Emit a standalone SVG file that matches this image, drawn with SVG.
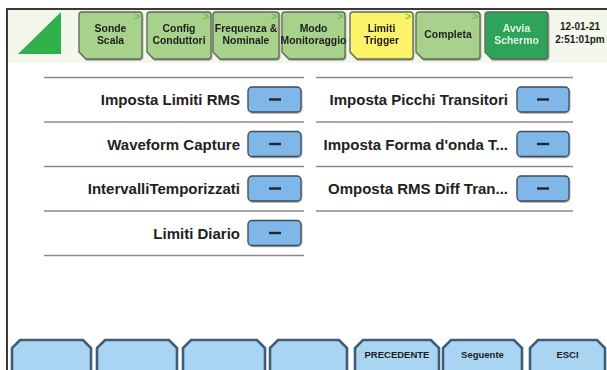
<svg xmlns="http://www.w3.org/2000/svg" width="607" height="370" viewBox="0 0 607 370">
  <style>
    .tab { stroke: #5f6a55; stroke-width: 1.3; }
    .tab-green { fill: #a8d18c; }
    .tab-yellow { fill: #fdf36a; }
    .tab-start { fill: #2ea35a; }
    .tab-text { font-family: "Liberation Sans", Arial, sans-serif; font-weight: bold; font-size: 10.4px; fill: #1e1e1e; text-anchor: middle; }
    .tab-text-light { fill: #e4f6e4; }
    .clock-text { font-family: "Liberation Sans", Arial, sans-serif; font-weight: bold; font-size: 10px; fill: #1e1e1e; text-anchor: middle; }
    .chev { font-family: "Liberation Sans", Arial, sans-serif; font-size: 11px; fill: #4fb848; }
    .rule { stroke: #8a8a8a; stroke-width: 1.3; }
    .label { font-family: "Liberation Sans", Arial, sans-serif; font-weight: bold; font-size: 15px; fill: #222; text-anchor: end; }
    .btn { fill: #80b7e9; stroke: #3f4b58; stroke-width: 1.3; }
    .minus { stroke: #1f2630; stroke-width: 2.4; }
    .softkey { fill: #a9d5f3; stroke: #3e5d78; stroke-width: 2.6; }
    .softkey-text { font-family: "Liberation Sans", Arial, sans-serif; font-weight: bold; font-size: 9.5px; fill: #1e1e1e; text-anchor: middle; }
  </style>
  <defs>
    <filter id="shadow" x="-10%" y="-10%" width="130%" height="140%">
      <feDropShadow dx="0.6" dy="1" stdDeviation="0.6" flood-color="#000" flood-opacity="0.35"/>
    </filter>
  </defs>

  <!-- screen background and frame -->
  <rect x="0" y="0" width="607" height="370" fill="#ffffff"/>
  <rect x="8" y="10" width="599" height="53" fill="#f4f8ec"/>
  <line x1="7" y1="9" x2="607" y2="9" stroke="#3a3a3a" stroke-width="2"/>
  <line x1="7" y1="8" x2="7" y2="370" stroke="#3a3a3a" stroke-width="2"/>

  <!-- logo -->
  <polygon points="18,54 61,12 61,54" fill="#2fb04a"/>

  <!-- setup step tabs -->
  <g id="tab-sonde" filter="url(#shadow)">
    <path class="tab tab-green" d="M82,12 H139 Q142,12 142,15 V56 Q142,59 139,59 H86 L79,52 V15 Q79,12 82,12 Z"/>
    <text class="chev" x="134" y="20">&gt;</text>
    <text class="tab-text" x="110.5" y="32">Sonde</text>
    <text class="tab-text" x="110.5" y="44">Scala</text>
  </g>
  <g id="tab-config" filter="url(#shadow)">
    <path class="tab tab-green" d="M150,12 H208 Q211,12 211,15 V56 Q211,59 208,59 H154 L147,52 V15 Q147,12 150,12 Z"/>
    <text class="chev" x="203" y="20">&gt;</text>
    <text class="tab-text" x="179" y="32">Config</text>
    <text class="tab-text" x="179" y="44">Conduttori</text>
  </g>
  <g id="tab-frequenza" filter="url(#shadow)">
    <path class="tab tab-green" d="M216,12 H276 Q279,12 279,15 V56 Q279,59 276,59 H220 L213,52 V15 Q213,12 216,12 Z"/>
    <text class="chev" x="271" y="20">&gt;</text>
    <text class="tab-text" x="246" y="32">Frequenza &amp;</text>
    <text class="tab-text" x="246" y="44">Nominale</text>
  </g>
  <g id="tab-modo" filter="url(#shadow)">
    <path class="tab tab-green" d="M285,12 H342 Q345,12 345,15 V56 Q345,59 342,59 H289 L282,52 V15 Q282,12 285,12 Z"/>
    <text class="chev" x="337" y="20">&gt;</text>
    <text class="tab-text" x="313.5" y="32">Modo</text>
    <text class="tab-text" x="313.5" y="44">Monitoraggio</text>
  </g>
  <g id="tab-limiti" filter="url(#shadow)">
    <path class="tab tab-yellow" d="M353,12 H410 Q413,12 413,15 V56 Q413,59 410,59 H357 L350,52 V15 Q350,12 353,12 Z"/>
    <text class="chev" x="405" y="20">&gt;</text>
    <text class="tab-text" x="381.5" y="32">Limiti</text>
    <text class="tab-text" x="381.5" y="44">Trigger</text>
  </g>
  <g id="tab-completa" filter="url(#shadow)">
    <path class="tab tab-green" d="M419,12 H477 Q480,12 480,15 V56 Q480,59 477,59 H423 L416,52 V15 Q416,12 419,12 Z"/>
    <text class="chev" x="472" y="20">&gt;</text>
    <text class="tab-text" x="448" y="38">Completa</text>
  </g>
  <g id="tab-avvia" filter="url(#shadow)">
    <path class="tab tab-start" d="M488,12 H545 Q548,12 548,15 V56 Q548,59 545,59 H492 L485,52 V15 Q485,12 488,12 Z"/>
    <text class="tab-text tab-text-light" x="516.5" y="32">Avvia</text>
    <text class="tab-text tab-text-light" x="516.5" y="44">Schermo</text>
  </g>

  <!-- clock -->
  <g id="clock">
    <text class="clock-text" x="580" y="30">12-01-21</text>
    <text class="clock-text" x="580" y="43">2:51:01pm</text>
  </g>

  <!-- row separators -->
  <g id="rules">
    <line class="rule" x1="44" y1="77.5" x2="304" y2="77.5"/>
    <line class="rule" x1="44" y1="122" x2="304" y2="122"/>
    <line class="rule" x1="44" y1="166.5" x2="304" y2="166.5"/>
    <line class="rule" x1="44" y1="211" x2="304" y2="211"/>
    <line class="rule" x1="44" y1="255.5" x2="304" y2="255.5"/>
    <line class="rule" x1="316" y1="77.5" x2="573" y2="77.5"/>
    <line class="rule" x1="316" y1="122" x2="573" y2="122"/>
    <line class="rule" x1="316" y1="166.5" x2="573" y2="166.5"/>
    <line class="rule" x1="316" y1="211" x2="573" y2="211"/>
  </g>

  <!-- left column settings -->
  <g id="row-limiti-rms">
    <text class="label" x="240" y="105">Imposta Limiti RMS</text>
    <rect class="btn" x="248" y="87" width="53" height="25" rx="4" filter="url(#shadow)"/>
    <line class="minus" x1="269" y1="99.5" x2="281" y2="99.5"/>
  </g>
  <g id="row-waveform">
    <text class="label" x="240" y="149.5">Waveform Capture</text>
    <rect class="btn" x="248" y="131.5" width="53" height="25" rx="4" filter="url(#shadow)"/>
    <line class="minus" x1="269" y1="144" x2="281" y2="144"/>
  </g>
  <g id="row-intervalli">
    <text class="label" x="240" y="194">IntervalliTemporizzati</text>
    <rect class="btn" x="248" y="176" width="53" height="25" rx="4" filter="url(#shadow)"/>
    <line class="minus" x1="269" y1="188.5" x2="281" y2="188.5"/>
  </g>
  <g id="row-diario">
    <text class="label" x="240" y="238.5">Limiti Diario</text>
    <rect class="btn" x="248" y="220.5" width="53" height="25" rx="4" filter="url(#shadow)"/>
    <line class="minus" x1="269" y1="233" x2="281" y2="233"/>
  </g>

  <!-- right column settings -->
  <g id="row-picchi">
    <text class="label" x="508" y="105">Imposta Picchi Transitori</text>
    <rect class="btn" x="517" y="87" width="52" height="25" rx="4" filter="url(#shadow)"/>
    <line class="minus" x1="537" y1="99.5" x2="549" y2="99.5"/>
  </g>
  <g id="row-forma-onda">
    <text class="label" x="508" y="149.5">Imposta Forma d'onda T...</text>
    <rect class="btn" x="517" y="131.5" width="52" height="25" rx="4" filter="url(#shadow)"/>
    <line class="minus" x1="537" y1="144" x2="549" y2="144"/>
  </g>
  <g id="row-rms-diff">
    <text class="label" x="508" y="194">Omposta RMS Diff Tran...</text>
    <rect class="btn" x="517" y="176" width="52" height="25" rx="4" filter="url(#shadow)"/>
    <line class="minus" x1="537" y1="188.5" x2="549" y2="188.5"/>
  </g>

  <!-- soft keys -->
  <g id="softkey-1"><path class="softkey" d="M12,371 V348 L20,340 H83 L91,348 V371"/></g>
  <g id="softkey-2"><path class="softkey" d="M97,371 V348 L105,340 H169 L177,348 V371"/></g>
  <g id="softkey-3"><path class="softkey" d="M183,371 V348 L191,340 H257 L265,348 V371"/></g>
  <g id="softkey-4"><path class="softkey" d="M270,371 V348 L278,340 H339 L347,348 V371"/></g>
  <g id="softkey-precedente">
    <path class="softkey" d="M355,371 V348 L363,340 H431 L439,348 V371"/>
    <text class="softkey-text" x="397" y="358">PRECEDENTE</text>
  </g>
  <g id="softkey-seguente">
    <path class="softkey" d="M443,371 V348 L451,340 H514 L522,348 V371"/>
    <text class="softkey-text" x="482.5" y="358">Seguente</text>
  </g>
  <g id="softkey-esci">
    <path class="softkey" d="M530,371 V348 L538,340 H597 L605,348 V371"/>
    <text class="softkey-text" x="567.5" y="358">ESCI</text>
  </g>
</svg>
